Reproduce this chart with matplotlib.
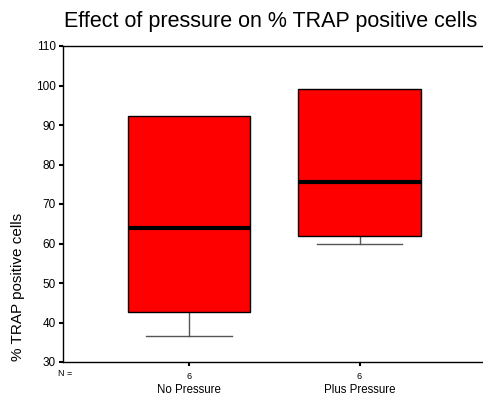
import matplotlib
matplotlib.use("Agg")
import matplotlib.pyplot as plt

plt.rcParams['font.family'] = ['Liberation Sans', 'DejaVu Sans']

categories = ["No Pressure", "Plus Pressure"]
n_values = [6, 6]
q1 = [42.7, 61.8]
med = [63.8, 75.5]
q3 = [92.2, 99.1]
whislo = [36.6, 60.0]
whishi = [92.2, 99.1]
yticks = [30, 40, 50, 60, 70, 80, 90, 100, 110]

W, H = 483, 396
fig = plt.figure(figsize=(W / 100, H / 100), dpi=100)
ax = fig.add_axes([63 / W, 1 - 362 / H, (W - 63) / W, (362 - 46) / H])

stats = []
for i, c in enumerate(categories):
    stats.append(dict(label=c, q1=q1[i], med=med[i], q3=q3[i],
                      whislo=whislo[i], whishi=whishi[i], fliers=[]))

positions = list(range(1, len(categories) + 1))
art = ax.bxp(stats, positions=positions, widths=0.716, patch_artist=True,
             showfliers=False, capwidths=0.5,
             boxprops=dict(facecolor='#ff0000', edgecolor='black', linewidth=1.0),
             medianprops=dict(color='black', linewidth=3),
             whiskerprops=dict(color='#555555', linewidth=1.0),
             capprops=dict(color='#555555', linewidth=1.0))
# hide upper whiskers/caps that coincide with the box top
for i in range(len(categories)):
    if whishi[i] <= q3[i]:
        art['caps'][2 * i + 1].set_visible(False)
        art['whiskers'][2 * i + 1].set_visible(False)
for b in art['boxes']:
    b.set_zorder(3)
for m in art['medians']:
    m.set_zorder(4)

ax.set_xlim(0.261, 2.724)
ax.set_ylim(30, 110)
ax.set_yticks(yticks)
ax.set_yticklabels([str(t) for t in yticks], fontsize=8.5)
ax.set_xticks(positions)
ax.set_xticklabels([str(n) for n in n_values], fontsize=6.5)
ax.tick_params(axis='y', direction='out', length=3, width=1.5, pad=2)
ax.tick_params(axis='x', direction='out', length=3, width=1.5, pad=4)
ax.spines['right'].set_visible(False)
for s in ['left', 'top', 'bottom']:
    ax.spines[s].set_linewidth(1.0)

fig.text(65 / W, 1 - 374 / H, "N =", fontsize=6.5, ha='center', va='center')
for i, c in enumerate(categories):
    xpix = ax.transData.transform((positions[i], 30))[0]
    fig.text(xpix / W, 1 - 390 / H, c, fontsize=8.3, ha='center', va='center')

fig.text(18 / W, 1 - 287 / H, "% TRAP positive cells", fontsize=11,
         rotation=90, ha='center', va='center')
fig.text(271 / W, 1 - 21 / H, "Effect of pressure on % TRAP positive cells",
         fontsize=15.5, ha='center', va='center')

fig.savefig("out.png", dpi=100)
